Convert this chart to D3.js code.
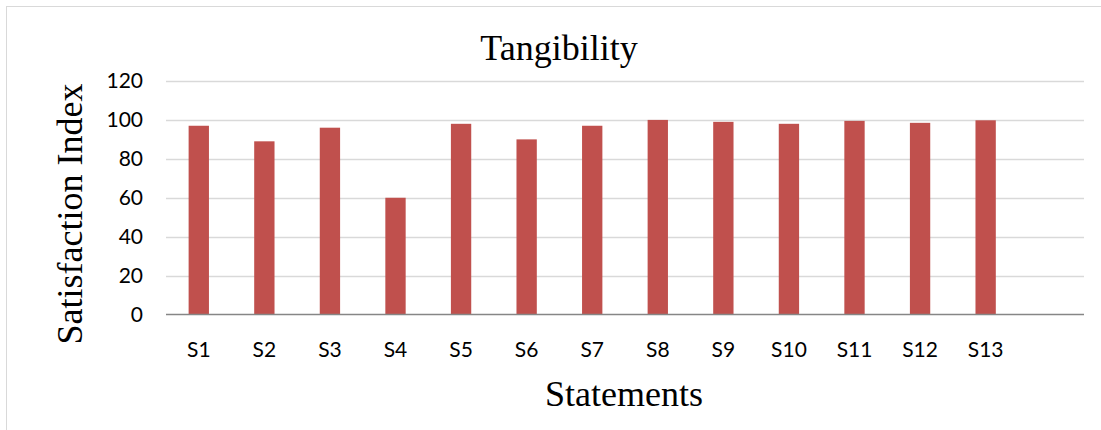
<!DOCTYPE html>
<html>
<head>
<meta charset="utf-8">
<script src="https://cdn.jsdelivr.net/npm/d3@7/dist/d3.min.js"></script>
<style>
  html, body { margin: 0; padding: 0; background: #fff; }
  svg { display: block; }
</style>
</head>
<body>
<svg id="chart" width="1101" height="430"></svg>
<script>
// Satisfaction index per statement (Tangibility dimension)
const categories = ["S1", "S2", "S3", "S4", "S5", "S6", "S7", "S8", "S9", "S10", "S11", "S12", "S13"];
const values = [97, 89, 96, 60, 98, 90, 97, 100, 99, 98, 99.5, 98.5, 99.8];
const yTicks = [0, 20, 40, 60, 80, 100, 120];

const chartTitle = "Tangibility";
const xTitle = "Statements";
const yTitle = "Satisfaction Index";

const svg = d3.select("#chart");
const W = 1101, H = 430;

// plot frame
const plotLeft = 166, plotRight = 1084, plotTop = 81, plotBottom = 314.5;
const slots = categories.length + 1;           // one empty slot trails the last bar
const step = (plotRight - plotLeft) / slots;

const x = d3.scaleBand()
  .domain(categories)
  .range([plotLeft, plotLeft + step * categories.length])
  .paddingInner(0.69)
  .paddingOuter(0.345);

const y = d3.scaleLinear().domain([0, 120]).range([plotBottom, plotTop]);

// outer chart border
svg.append("rect")
  .attr("x", 6.5).attr("y", 6.5)
  .attr("width", W + 10).attr("height", H + 10)
  .attr("fill", "#fff")
  .attr("stroke", "#d9d9d9")
  .attr("stroke-width", 1);

// horizontal gridlines
svg.append("g")
  .selectAll("line")
  .data(yTicks.filter(t => t !== 0))
  .join("line")
  .attr("x1", plotLeft).attr("x2", plotRight)
  .attr("y1", d => Math.round(y(d)) + 0.5)
  .attr("y2", d => Math.round(y(d)) + 0.5)
  .attr("stroke", "#d9d9d9")
  .attr("stroke-width", 1.3);

// bars
svg.append("g")
  .selectAll("rect")
  .data(categories.map((c, i) => ({ c, v: values[i] })))
  .join("rect")
  .attr("x", d => x(d.c))
  .attr("y", d => y(d.v))
  .attr("width", x.bandwidth())
  .attr("height", d => y(0) - y(d.v))
  .attr("fill", "#c0504d");

// category axis baseline
svg.append("line")
  .attr("x1", plotLeft).attr("x2", plotRight)
  .attr("y1", plotBottom).attr("y2", plotBottom)
  .attr("stroke", "#868686")
  .attr("stroke-width", 1.5);

const labelFont = "Lato, 'Open Sans', sans-serif";

// y axis labels
const yAxis = svg.append("g")
  .attr("transform", `translate(${plotLeft},0)`)
  .call(d3.axisLeft(y).tickValues(yTicks).tickSize(0).tickPadding(23));
yAxis.select(".domain").remove();
yAxis.selectAll("text")
  .attr("font-family", labelFont)
  .attr("font-size", 21)
  .attr("fill", "#000");

// x axis labels
const xAxis = svg.append("g")
  .attr("transform", `translate(0,${plotBottom})`)
  .call(d3.axisBottom(x).tickSize(0).tickPadding(28));
xAxis.select(".domain").remove();
xAxis.selectAll("text")
  .attr("font-family", labelFont)
  .attr("font-size", 21)
  .attr("fill", "#000");

// titles
const serif = "'Liberation Serif', 'Times New Roman', serif";
svg.append("text")
  .attr("x", 559).attr("y", 60)
  .attr("text-anchor", "middle")
  .attr("font-family", serif)
  .attr("font-size", 36)
  .attr("fill", "#000")
  .text(chartTitle);

svg.append("text")
  .attr("x", 624).attr("y", 406)
  .attr("text-anchor", "middle")
  .attr("font-family", serif)
  .attr("font-size", 36)
  .attr("fill", "#000")
  .text(xTitle);

svg.append("text")
  .attr("transform", "translate(82,214) rotate(-90)")
  .attr("text-anchor", "middle")
  .attr("font-family", serif)
  .attr("font-size", 36)
  .attr("fill", "#000")
  .text(yTitle);
</script>
</body>
</html>
